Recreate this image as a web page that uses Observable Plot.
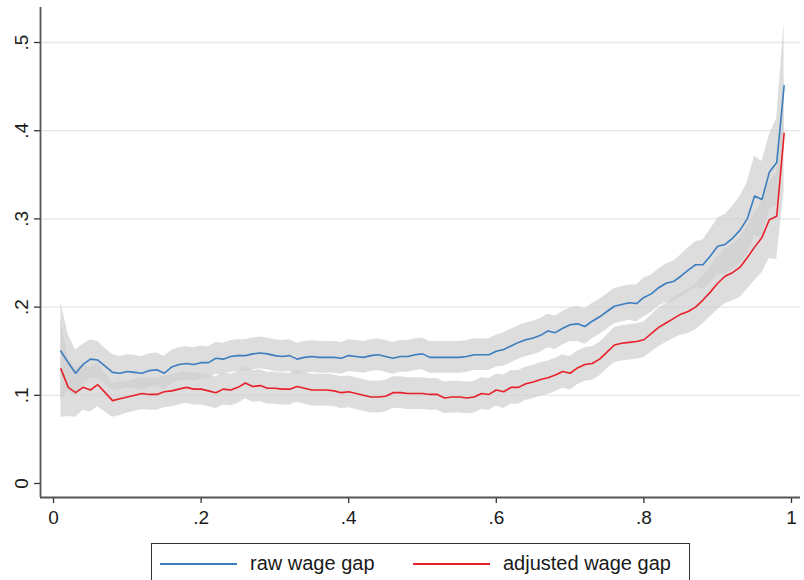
<!DOCTYPE html>
<html>
<head>
<meta charset="utf-8">
<script src="https://cdn.jsdelivr.net/npm/d3@7"></script>
<script src="https://cdn.jsdelivr.net/npm/@observablehq/plot@0.6"></script>
<style>
  html, body { margin: 0; padding: 0; background: #fff; }
  body { width: 804px; height: 580px; overflow: hidden; font-family: "Liberation Sans", Arial, Helvetica, sans-serif; }
  #chart svg text { font-size: 19px !important; font-family: "Liberation Sans", Arial, Helvetica, sans-serif !important; }
  #legend { position: relative; margin-left: 151px; margin-top: 3px; width: 539px; height: 50px; border: 1.5px solid #333; border-bottom: none; box-sizing: border-box; }
  .sw { position: absolute; top: 19px; width: 77px; height: 2px; }
  .lb { position: absolute; top: 7px; font-size: 20px; color: #1a1a1a; line-height: 24px; white-space: nowrap; }
</style>
</head>
<body>
<div id="chart"></div>
<div id="legend"></div>
<script>
// Percentiles (x axis)
const pct = d3.range(1, 100).map(i => i / 100);

// Raw wage gap (blue)
const rawGap = [
  .150,.137,.125,.135,.141,.140,.133,.126,.125,.127,
  .126,.125,.128,.129,.125,.132,.135,.136,.135,.137,
  .137,.142,.141,.144,.145,.145,.147,.148,.147,.145,
  .144,.145,.141,.143,.144,.143,.143,.143,.142,.145,
  .144,.143,.145,.146,.144,.142,.144,.144,.146,.147,
  .143,.143,.143,.143,.143,.144,.146,.146,.146,.150,
  .152,.156,.160,.163,.165,.168,.173,.171,.176,.180,
  .181,.178,.184,.189,.195,.201,.203,.205,.204,.211,
  .215,.222,.227,.229,.235,.242,.248,.248,.258,.269,
  .271,.278,.287,.300,.326,.322,.353,.364,.451
];
// Half-width of the confidence band around the raw gap
const rawHalf = [
  .055,.032,.026,.023,.022,.021,.020,.020,.019,.019,
  .019,.019,.019,.019,.019,.019,.019,.019,.019,.019,
  .018,.018,.018,.018,.018,.018,.018,.018,.018,.018,
  .018,.018,.018,.018,.018,.018,.018,.018,.018,.018,
  .018,.018,.018,.018,.018,.018,.018,.018,.018,.018,
  .018,.018,.018,.018,.018,.018,.018,.018,.018,.018,
  .019,.019,.019,.019,.019,.019,.019,.019,.019,.019,
  .020,.020,.020,.020,.020,.020,.020,.020,.021,.022,
  .021,.021,.022,.023,.024,.025,.026,.028,.030,.032,
  .034,.036,.038,.041,.045,.043,.042,.050,.072
];

// Adjusted wage gap (red)
const adjGap = [
  .130,.109,.103,.109,.106,.112,.103,.094,.096,.098,
  .100,.102,.101,.101,.104,.105,.107,.109,.107,.107,
  .105,.103,.107,.106,.109,.114,.110,.111,.108,.108,
  .107,.107,.110,.108,.106,.106,.106,.105,.103,.104,
  .102,.100,.098,.098,.099,.103,.103,.102,.102,.102,
  .101,.101,.097,.098,.098,.097,.098,.102,.101,.106,
  .104,.109,.109,.113,.115,.118,.120,.123,.127,.125,
  .131,.135,.136,.141,.149,.157,.159,.160,.161,.163,
  .170,.177,.182,.187,.192,.195,.200,.208,.217,.227,
  .235,.239,.245,.256,.268,.279,.299,.303,.397
];
// Half-width of the confidence band around the adjusted gap
const adjHalf = [
  .055,.033,.028,.026,.025,.025,.022,.019,.019,.018,
  .018,.018,.018,.018,.018,.018,.018,.018,.018,.018,
  .018,.018,.018,.018,.018,.018,.018,.018,.018,.018,
  .018,.018,.018,.018,.018,.018,.018,.018,.018,.018,
  .018,.018,.018,.018,.018,.018,.018,.018,.018,.018,
  .018,.018,.018,.018,.018,.018,.018,.018,.018,.018,
  .019,.019,.019,.019,.019,.019,.019,.019,.019,.019,
  .019,.019,.019,.019,.019,.020,.020,.020,.020,.020,
  .021,.022,.022,.023,.024,.025,.026,.027,.028,.030,
  .031,.032,.034,.036,.038,.040,.044,.049,.065
];

const xTicks = [0, 0.2, 0.4, 0.6, 0.8, 1];
const yTicks = [0, 0.1, 0.2, 0.3, 0.4, 0.5];
const xDomain = [-0.01762, 1.0122];
const yDomain = [-0.01587, 0.5397];
const series = [
  {name: "raw wage gap", color: "#3b7dbf", values: rawGap, half: rawHalf},
  {name: "adjusted wage gap", color: "#e8202a", values: adjGap, half: adjHalf}
];

const fmt = d => d === 0 ? "0" : d === 1 ? "1" : d3.format(".1f")(d).replace(/^0/, "");

const rows = s => pct.map((p, i) => ({x: p, y: s.values[i], lo: s.values[i] - s.half[i], hi: s.values[i] + s.half[i]}));

const marks = [
  Plot.gridY(yTicks.filter(d => d > 0), {stroke: "#e6e6e6", strokeOpacity: 1, strokeWidth: 1.3})
];
for (const s of series) {
  marks.push(Plot.areaY(rows(s), {x: "x", y1: "lo", y2: "hi", fill: "#cfcfcf", fillOpacity: 0.7}));
}
for (const s of series) {
  marks.push(Plot.line(rows(s), {x: "x", y: "y", stroke: s.color, strokeWidth: 1.6}));
}
marks.push(
  Plot.axisY(yTicks, {tickFormat: fmt, tickSize: 6, tickRotate: -90, tickPadding: 7, label: null, stroke: "#333", strokeWidth: 1.3, fill: "#1a1a1a"}),
  Plot.axisX(xTicks, {tickFormat: fmt, tickSize: 6, tickPadding: 7, label: null, stroke: "#333", strokeWidth: 1.3, fill: "#1a1a1a"}),
  Plot.ruleX([xDomain[0]], {stroke: "#555", strokeWidth: 1.8}),
  Plot.ruleY([yDomain[0]], {stroke: "#555", strokeWidth: 1.8})
);

const chart = Plot.plot({
  width: 804,
  height: 540,
  marginLeft: 40,
  marginRight: 4,
  marginTop: 7,
  marginBottom: 43,
  x: {domain: xDomain, label: null},
  y: {domain: yDomain, label: null},
  style: {fontFamily: "Liberation Sans, Arial, Helvetica, sans-serif", fontSize: "19px", background: "#fff", color: "#1a1a1a"},
  marks
});
document.getElementById("chart").appendChild(chart);

// Legend
const leg = document.getElementById("legend");
const swX = [8, 261];
const lbX = [98, 351];
series.forEach((s, i) => {
  const sw = document.createElement("div");
  sw.className = "sw";
  sw.style.left = swX[i] + "px";
  sw.style.background = s.color;
  leg.appendChild(sw);
  const lb = document.createElement("div");
  lb.className = "lb";
  lb.style.left = lbX[i] + "px";
  lb.textContent = s.name;
  leg.appendChild(lb);
});
</script>
</body>
</html>
